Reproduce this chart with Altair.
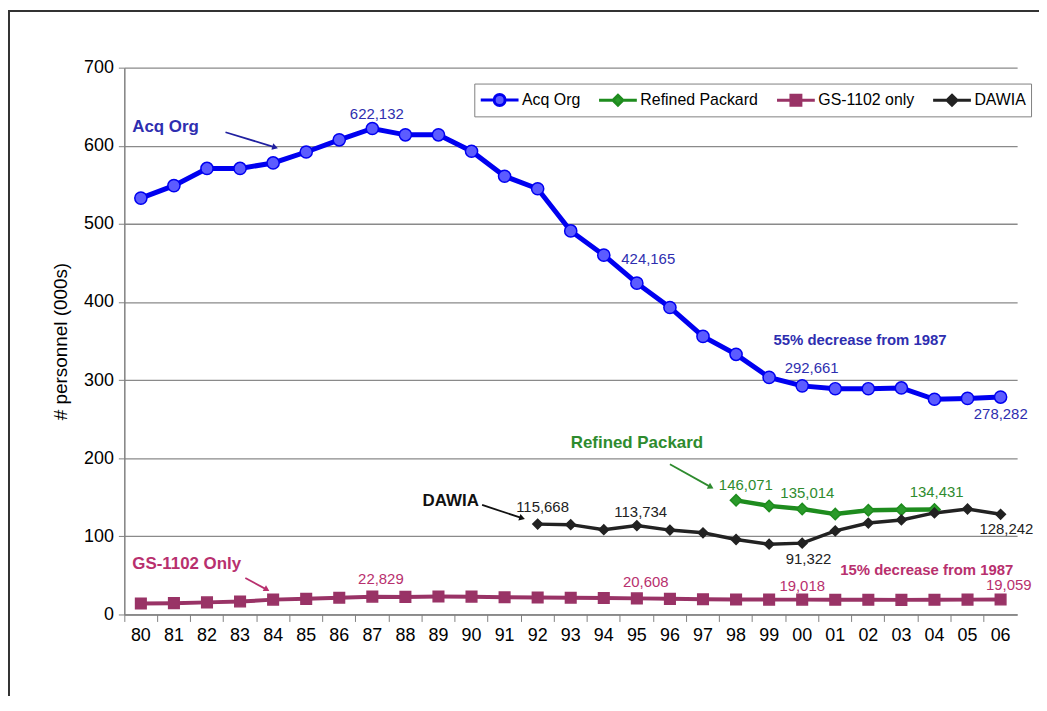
import altair as alt
import pandas as pd

years = ["80","81","82","83","84","85","86","87","88","89","90","91","92","93",
         "94","95","96","97","98","99","00","01","02","03","04","05","06"]

acq_org = [533, 549, 571, 571, 578, 592, 607.6, 622.132, 614, 614, 593, 561, 545, 491,
           460, 424.165, 393, 356, 333, 303.5, 292.661, 289, 289, 290, 275.5, 276.6, 278.282]

rp_years = ["98","99","00","01","02","03","04"]
refined_packard = [146.071, 139, 135.014, 128.5, 133.5, 134, 134.431]

gs_1102 = [14, 14.5, 15.5, 16.5, 19, 20, 21.5, 22.829, 22.5, 23, 22.8, 22, 21.8, 21.5,
           21, 20.608, 20, 19.5, 19.2, 19, 19.018, 18.8, 18.8, 18.7, 18.8, 19, 19.059]

dawia_years = ["92","93","94","95","96","97","98","99","00","01","02","03","04","05","06"]
dawia = [115.668, 115, 108.5, 113.734, 108, 104.5, 96, 90, 91.322, 107, 117, 121, 130, 135, 128.242]

series_names = ["Acq Org", "Refined Packard", "GS-1102 only", "DAWIA"]
line_colors = ["#0000F0", "#1E8C1E", "#993366", "#222222"]
fill_colors = ["#5C5CFF", "#2A9A2A", "#993366", "#222222"]
line_widths = [5, 3.5, 3, 3]
marker_shapes = ["circle", "diamond", "square", "diamond"]
marker_sizes = [150, 95, 135, 95]
# legend glyphs: a short line with the marker in its middle
legend_shapes = [
    "M-1.9,0H-0.55M0.55,0H1.9M-0.55,0A0.55,0.55,0,1,1,0.55,0A0.55,0.55,0,1,1,-0.55,0Z",
    "M-1.9,0H-0.5M0.5,0H1.9M0,-0.5L0.5,0L0,0.5L-0.5,0Z",
    "M-1.9,0H-0.5M0.5,0H1.9M-0.5,-0.5H0.5V0.5H-0.5Z",
    "M-1.9,0H-0.5M0.5,0H1.9M0,-0.5L0.5,0L0,0.5L-0.5,0Z",
]

# annotation labels: text, x (year index), value, colour
label_text = ["622,132", "424,165", "292,661", "278,282",
              "146,071", "135,014", "134,431",
              "115,668", "113,734", "91,322", "128,242",
              "22,829", "20,608", "19,018", "19,059"]
label_x = [6.32, 14.53, 19.47, 25.19, 17.48, 19.34, 23.25, 11.35, 14.32, 19.5, 25.36,
           6.57, 14.58, 19.31, 25.56]
label_v = [640.7, 455, 314.9, 256.7, 165.6, 155.5, 157, 137.3, 131, 71.2, 109.7,
           45.8, 41.6, 36.5, 37.3]
label_color = ["#2E2EB0"] * 4 + ["#2E8B2E"] * 3 + ["#222222"] * 4 + ["#B8306E"] * 4

bold_text = ["Acq Org", "55% decrease from 1987", "Refined Packard", "DAWIA",
             "GS-1102 Only", "15% decrease from 1987"]
bold_x = [-0.26, 19.13, 13.0, 8.52, -0.26, 21.15]
bold_v = [624.5, 351.8, 220, 145.7, 64.9, 56.4]
bold_size = [17, 15, 17, 17, 17, 15]
bold_color = ["#2E2EB0", "#2E2EB0", "#2E8B2E", "#111111", "#B8306E", "#B8306E"]

arrow_x = [2.56, 16.0, 10.32, 3.16]
arrow_v = [617.3, 192.4, 140.2, 46.7]
arrow_x2 = [4.06, 17.24, 11.53, 3.81]
arrow_v2 = [598, 163, 123.3, 31.8]
arrow_angle = [106, 119, 108, 120]
arrow_color = ["#2020A0", "#2E8B2E", "#111111", "#B8306E"]

rows = []
for y, v in zip(years, acq_org):
    rows.append({"year": y, "value": v, "series": "Acq Org"})
for y, v in zip(rp_years, refined_packard):
    rows.append({"year": y, "value": v, "series": "Refined Packard"})
for y, v in zip(years, gs_1102):
    rows.append({"year": y, "value": v, "series": "GS-1102 only"})
for y, v in zip(dawia_years, dawia):
    rows.append({"year": y, "value": v, "series": "DAWIA"})
df = pd.DataFrame(rows)

labels_df = pd.DataFrame({"text": label_text, "xi": label_x, "value": label_v, "c": label_color})
bold_df = pd.DataFrame({"text": bold_text, "xi": bold_x, "value": bold_v, "s": bold_size, "c": bold_color})
arrows_df = pd.DataFrame({"xi": arrow_x, "value": arrow_v, "xi2": arrow_x2, "value2": arrow_v2,
                          "c": arrow_color})
heads_df = pd.DataFrame({"xi": arrow_x2, "value": arrow_v2, "ang": arrow_angle, "c": arrow_color})

FONT = "Liberation Sans"

y_enc = alt.Y("value:Q", scale=alt.Scale(domain=[0, 700], nice=False, zero=True),
              axis=alt.Axis(values=[0, 100, 200, 300, 400, 500, 600, 700],
                            title="# personnel (000s)", titleFontSize=19, titleFontWeight="normal",
                            titleFont=FONT, titleColor="black", titlePadding=13,
                            labelFontSize=18, labelFont=FONT, labelColor="black", labelPadding=5,
                            tickSize=6, tickColor="#808080", domainColor="#808080", domainWidth=1.5,
                            grid=True, gridColor="#8a8a8a", gridWidth=1.3))

x_main = alt.X("year:O", sort=years,
               scale=alt.Scale(type="band", domain=years, paddingInner=0, paddingOuter=0),
               axis=alt.Axis(title=None, labelAngle=0, bandPosition=0, labelFontSize=18,
                             labelFont=FONT, labelColor="black", labelPadding=5, tickSize=7,
                             tickColor="#808080", domainColor="#808080", domainWidth=1.5,
                             grid=False))

x_ann = alt.X("xi:Q", scale=alt.Scale(domain=[-0.5, 26.5], nice=False, zero=False), axis=None)

base = alt.Chart(df)

lines = base.mark_line().encode(
    x=x_main, y=y_enc,
    stroke=alt.Stroke("series:N", scale=alt.Scale(domain=series_names, range=line_colors), legend=None),
    strokeWidth=alt.StrokeWidth("series:N", scale=alt.Scale(domain=series_names, range=line_widths), legend=None),
)

points = base.mark_point(filled=True, opacity=1, strokeWidth=1.5).encode(
    x=x_main, y=y_enc,
    fill=alt.Fill("series:N", scale=alt.Scale(domain=series_names, range=fill_colors), legend=None),
    stroke=alt.Stroke("series:N", scale=alt.Scale(domain=series_names, range=line_colors), legend=None),
    shape=alt.Shape("series:N", scale=alt.Scale(domain=series_names, range=marker_shapes), legend=None),
    size=alt.Size("series:N", scale=alt.Scale(domain=series_names, range=marker_sizes), legend=None),
)

main = alt.layer(lines, points)

legend_layer = base.transform_filter("false").mark_point(filled=True, opacity=1, size=400, strokeWidth=2.5).encode(
    fill=alt.Fill("series:N", scale=alt.Scale(domain=series_names, range=fill_colors),
                  legend=alt.Legend(title=None)),
    stroke=alt.Stroke("series:N", scale=alt.Scale(domain=series_names, range=line_colors),
                      legend=alt.Legend(title=None)),
    shape=alt.Shape("series:N", scale=alt.Scale(domain=series_names, range=legend_shapes),
                    legend=alt.Legend(title=None, orient="none", legendX=352, legendY=16,
                                      direction="horizontal", columns=4,
                                      strokeColor="#808080", fillColor="white", padding=5,
                                      labelFontSize=16, labelFont=FONT, labelColor="black",
                                      symbolOffset=9, labelOffset=11, columnPadding=12,
                                      symbolSize=400, symbolStrokeWidth=3, symbolOpacity=1)),
)

ann_regular = alt.Chart(labels_df).mark_text(align="left", baseline="middle", font=FONT, fontSize=15).encode(
    x=x_ann, y=y_enc, text="text:N", color=alt.Color("c:N", scale=None))

ann_bold = alt.Chart(bold_df).mark_text(align="left", baseline="middle", font=FONT, fontWeight="bold").encode(
    x=x_ann, y=y_enc, text="text:N", color=alt.Color("c:N", scale=None),
    size=alt.Size("s:Q", scale=None))

arrow_lines = alt.Chart(arrows_df).mark_rule(strokeWidth=1.8).encode(
    x=x_ann, x2="xi2:Q", y=y_enc, y2="value2:Q", color=alt.Color("c:N", scale=None))

arrow_heads = alt.Chart(heads_df).mark_point(shape="triangle-up", filled=True, size=45, opacity=1).encode(
    x=x_ann, y=y_enc,
    angle=alt.Angle("ang:Q", scale=None),
    color=alt.Color("c:N", scale=None))

ann = alt.layer(arrow_lines, arrow_heads, ann_regular, ann_bold)

frame_df = pd.DataFrame({"k": [0]})
frame_top = alt.Chart(frame_df).mark_rule(color="#333333", strokeWidth=2).encode(
    x=alt.value(-117), x2=alt.value(940), y=alt.value(-57))
frame_left = alt.Chart(frame_df).mark_rule(color="#333333", strokeWidth=2).encode(
    x=alt.value(-116), y=alt.value(-58), y2=alt.value(650))

chart = alt.layer(main, ann, legend_layer, frame_top, frame_left).resolve_scale(
    x="independent", fill="independent", stroke="independent", shape="independent"
).properties(
    width=898, height=550,
    autosize=alt.AutoSizeParams(type="none"),
    padding={"left": 117, "top": 58, "right": 22, "bottom": 80},
    background="white",
).configure_view(stroke=None)

chart.save("out.html", embed_options={"renderer": "svg", "actions": False})
